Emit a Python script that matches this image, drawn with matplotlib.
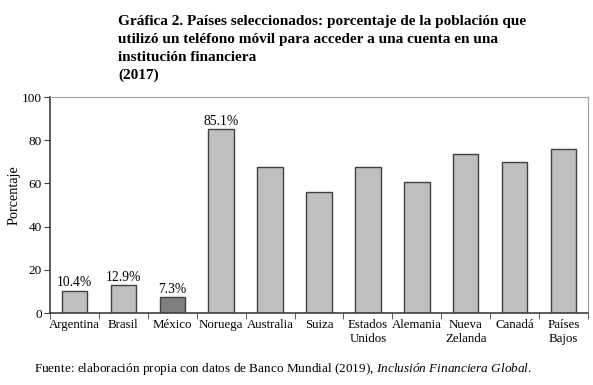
import matplotlib.pyplot as plt
import numpy as np

plt.rcParams['font.family'] = ['Liberation Serif', 'DejaVu Serif']
plt.rcParams['mathtext.fontset'] = 'custom'
plt.rcParams['mathtext.rm'] = 'Liberation Serif'
plt.rcParams['mathtext.it'] = 'Liberation Serif:italic'

countries = ["Argentina", "Brasil", "México", "Noruega", "Australia", "Suiza",
             "Estados\nUnidos", "Alemania", "Nueva\nZelanda", "Canadá", "Países\nBajos"]
values = [10.4, 12.9, 7.3, 85.1, 67.7, 56.2, 67.4, 60.8, 73.8, 69.9, 75.9]
labelled = {0: "10.4%", 1: "12.9%", 2: "7.3%", 3: "85.1%"}
highlight = "México"

fig = plt.figure(figsize=(5.93, 3.85), dpi=100)
ax = fig.add_axes([0.0843, 0.187, 0.9073, 0.561])

x = np.arange(len(countries))
colors = ["#7f7f7f" if c == highlight else "#bfbfbf" for c in countries]
ax.bar(x, values, width=0.52, color=colors, edgecolor="#404040", linewidth=1.0, zorder=2)

for i, txt in labelled.items():
    ax.text(x[i], values[i] + 0.5, txt, ha="center", va="bottom", fontsize=9.8)

ax.set_xlim(-0.5, len(countries) - 0.5)
ax.set_ylim(0, 100)
ax.set_yticks([0, 20, 40, 60, 80, 100])
ax.tick_params(axis="y", labelsize=9.5, length=4, color="#404040", pad=2)
ax.set_xticks(x)
ax.set_xticklabels(countries, fontsize=9.3, linespacing=1.25)
ax.tick_params(axis="x", which="major", length=0, pad=4)
ax.set_xticks(np.arange(len(countries) + 1) - 0.5, minor=True)
ax.tick_params(axis="x", which="minor", length=4, color="#404040", direction="out")

for s in ["left", "bottom"]:
    ax.spines[s].set_color("#404040")
    ax.spines[s].set_linewidth(1.2)
for s in ["top", "right"]:
    ax.spines[s].set_color("#a0a0a0")
    ax.spines[s].set_linewidth(0.8)

ax.set_ylabel("Porcentaje", fontsize=10.3)
ax.yaxis.set_label_coords(-0.055, 0.546)

fig.text(0.199, 0.962,
         "Gráfica 2. Países seleccionados: porcentaje de la población que\n"
         "utilizó un teléfono móvil para acceder a una cuenta en una\n"
         "institución financiera\n(2017)",
         ha="left", va="top", fontsize=11, fontweight="bold", linespacing=1.5)

fig.text(0.057, 0.022,
         "Fuente: elaboración propia con datos de Banco Mundial (2019), $\\it{Inclusión\\ Financiera\\ Global}$.",
         ha="left", va="bottom", fontsize=9.5)

fig.savefig("out.png", dpi=100)
